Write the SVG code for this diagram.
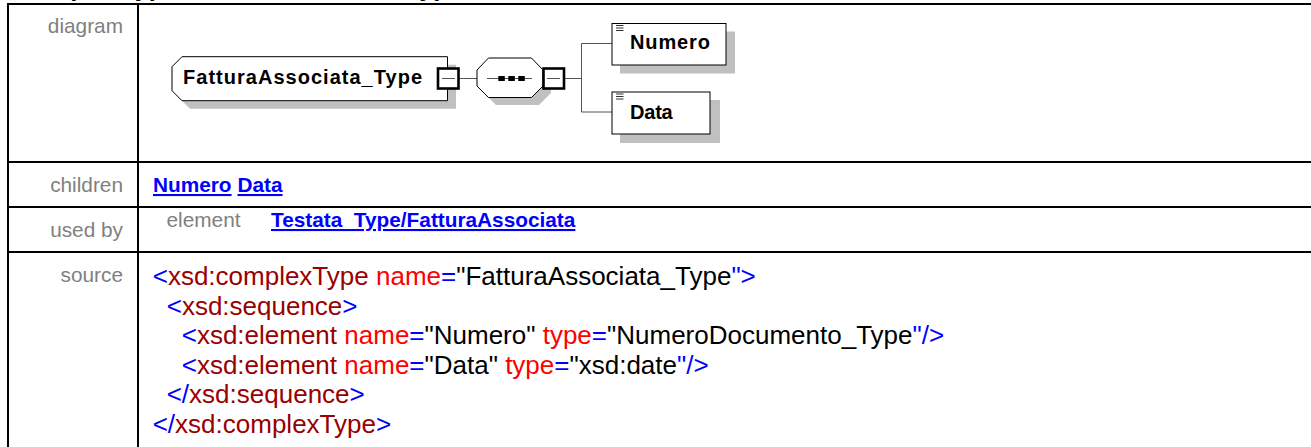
<svg xmlns="http://www.w3.org/2000/svg" width="1311" height="447" viewBox="0 0 1311 447">
<style>
text{font-family:"Liberation Sans",Arial,sans-serif}
.lbl{font-size:20.8px;fill:#808080;text-anchor:end}
.lnk{font-size:20.8px;font-weight:bold;fill:#0000ff;text-decoration:underline}
.src{font-size:26px;fill:#000}
.b{fill:#0000ff}.e{fill:#990000}.a{fill:#ff0000}
.grid{stroke:#000;stroke-width:2;fill:none}
.shadow{fill:#c0c0c0}
.box{fill:#fff;stroke:#000;stroke-width:1}
.nt{font-size:20px;font-weight:bold;fill:#000}
.conn{stroke:#555;stroke-width:1;fill:none}
.exp{fill:#fff;stroke:#000;stroke-width:2.6}
.icon{stroke:#333;stroke-width:1}
</style>
<rect width="1311" height="447" fill="#fff"/>
<text x="18" y="-4.3" style="font-size:25.4px;font-weight:bold">complexType FatturaAssociata_Type</text>
<g id="table">
<line class="grid" x1="7" y1="4" x2="1311" y2="4"/>
<line class="grid" x1="7" y1="162" x2="1311" y2="162"/>
<line class="grid" x1="7" y1="207" x2="1311" y2="207"/>
<line class="grid" x1="7" y1="252" x2="1311" y2="252"/>
<line class="grid" x1="8" y1="3" x2="8" y2="447"/>
<line class="grid" x1="138" y1="3" x2="138" y2="447"/>
</g>
<g id="labels">
<text class="lbl" x="123" y="33">diagram</text>
<text class="lbl" x="123" y="192">children</text>
<text class="lbl" x="123" y="237">used by</text>
<text class="lbl" x="123" y="282">source</text>
</g>
<g id="children">
<text class="lnk" x="153" y="192">Numero</text>
<text class="lnk" x="237.5" y="192">Data</text>
</g>
<g id="usedby">
<text class="lbl" x="166.5" y="227" style="text-anchor:start">element</text>
<text class="lnk" x="271" y="227">Testata_Type/FatturaAssociata</text>
</g>
<g id="source" class="src">
<text x="152.7" y="285"><tspan class="b">&lt;</tspan><tspan class="e">xsd:complexType</tspan> <tspan class="a">name</tspan><tspan class="b">=</tspan>"FatturaAssociata_Type<tspan class="b">"&gt;</tspan></text>
<text x="166.7" y="314.6"><tspan class="b">&lt;</tspan><tspan class="e">xsd:sequence</tspan><tspan class="b">&gt;</tspan></text>
<text x="181.7" y="344.2"><tspan class="b">&lt;</tspan><tspan class="e">xsd:element</tspan> <tspan class="a">name</tspan><tspan class="b">=</tspan>"Numero" <tspan class="a">type</tspan><tspan class="b">=</tspan>"NumeroDocumento_Type<tspan class="b">"/&gt;</tspan></text>
<text x="181.7" y="373.8"><tspan class="b">&lt;</tspan><tspan class="e">xsd:element</tspan> <tspan class="a">name</tspan><tspan class="b">=</tspan>"Data" <tspan class="a">type</tspan><tspan class="b">=</tspan>"xsd:date<tspan class="b">"/&gt;</tspan></text>
<text x="166.7" y="403.4"><tspan class="b">&lt;/</tspan><tspan class="e">xsd:sequence</tspan><tspan class="b">&gt;</tspan></text>
<text x="152.7" y="433"><tspan class="b">&lt;/</tspan><tspan class="e">xsd:complexType</tspan><tspan class="b">&gt;</tspan></text>
</g>
<g id="connectors">
<line class="conn" x1="459" y1="78.5" x2="477" y2="78.5"/>
<line class="conn" x1="564" y1="78.5" x2="581.5" y2="78.5"/>
<line class="conn" x1="581.5" y1="43.5" x2="581.5" y2="112"/>
<line class="conn" x1="581.5" y1="43.5" x2="612" y2="43.5"/>
<line class="conn" x1="581.5" y1="112" x2="612" y2="112"/>
</g>
<g id="node-main">
<polygon class="shadow" points="190,64.7 456,64.7 456,108.7 190,108.7 180,98.7 180,74.7"/>
<polygon class="box" points="182,56.7 447.5,56.7 447.5,100.7 182,100.7 172,90.7 172,66.7"/>
<text class="nt" x="183" y="84" textLength="239" lengthAdjust="spacing">FatturaAssociata_Type</text>
<rect class="exp" x="438" y="68.5" width="20.5" height="20"/>
<line class="conn" x1="442" y1="78.5" x2="455" y2="78.5"/>
</g>
<g id="node-sequence">
<polygon class="shadow" points="496,66 539,66 551,78 551,93 539,105 496,105 484,93 484,78"/>
<polygon class="box" points="488.5,58 531.5,58 543,70 543,86 531.5,97.5 488.5,97.5 477,86 477,70"/>
<line class="conn" x1="487" y1="78.5" x2="532" y2="78.5"/>
<rect x="498.3" y="76" width="6.5" height="5" fill="#000"/>
<rect x="508.3" y="76" width="6.5" height="5" fill="#000"/>
<rect x="518.3" y="76" width="6.5" height="5" fill="#000"/>
<rect class="exp" x="543.5" y="68.5" width="20.5" height="20"/>
<line class="conn" x1="547" y1="78.5" x2="560" y2="78.5"/>
</g>
<g id="node-numero">
<rect class="shadow" x="620" y="31.5" width="115" height="42"/>
<rect class="box" x="612" y="23.5" width="114" height="41.5"/>
<line class="icon" x1="616" y1="25.5" x2="623.5" y2="25.5"/>
<line class="icon" x1="616" y1="28" x2="623.5" y2="28"/>
<line class="icon" x1="616" y1="30.5" x2="623.5" y2="30.5"/>
<text class="nt" x="630" y="49.3" textLength="80" lengthAdjust="spacing">Numero</text>
</g>
<g id="node-data">
<rect class="shadow" x="620" y="100" width="100" height="43"/>
<rect class="box" x="612" y="92" width="98" height="42"/>
<line class="icon" x1="616" y1="94" x2="623.5" y2="94"/>
<line class="icon" x1="616" y1="96.5" x2="623.5" y2="96.5"/>
<line class="icon" x1="616" y1="99" x2="623.5" y2="99"/>
<text class="nt" x="630" y="119" textLength="42.7" lengthAdjust="spacing">Data</text>
</g>
</svg>
